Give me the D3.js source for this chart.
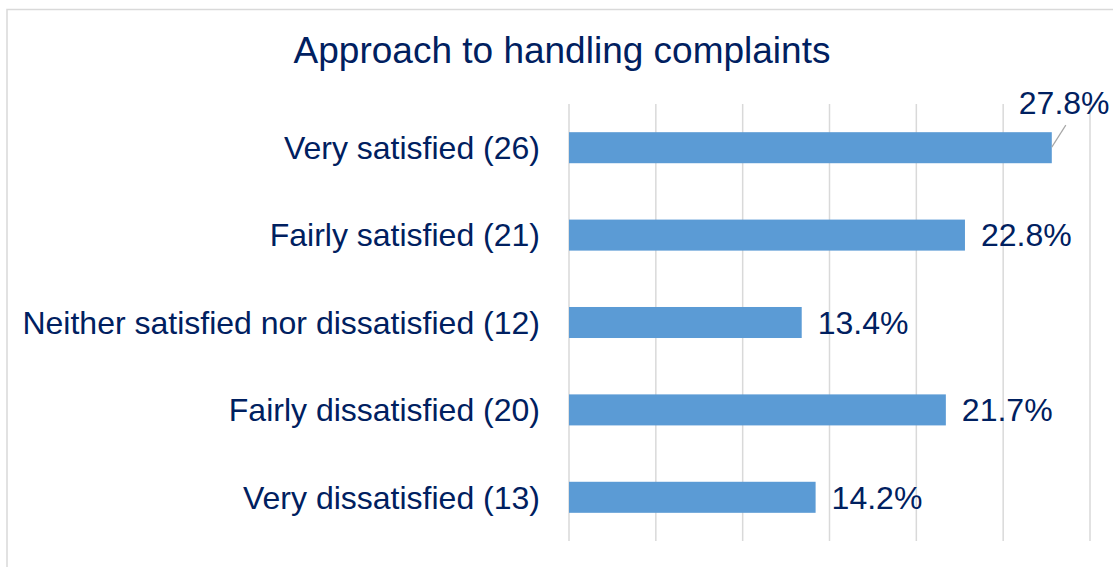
<!DOCTYPE html>
<html>
<head>
<meta charset="utf-8">
<script src="https://cdn.jsdelivr.net/npm/d3@7"></script>
<style>
  html, body { margin: 0; padding: 0; background: #fff; }
  svg { display: block; font-family: "Liberation Sans", Arial, sans-serif; }
</style>
</head>
<body>
<div id="chart"></div>
<script>
// Chart data
const categories = [
  'Very satisfied (26)',
  'Fairly satisfied (21)',
  'Neither satisfied nor dissatisfied (12)',
  'Fairly dissatisfied (20)',
  'Very dissatisfied (13)'
];
const values = [27.8, 22.8, 13.4, 21.7, 14.2];
const gridTicks = [0, 5, 10, 15, 20, 25, 30];
const title = 'Approach to handling complaints';

const width = 1113, height = 567;
const plot = { left: 569, right: 1090, top: 104, bottom: 541 };
const navy = '#002060';
const fs = 32;

const svg = d3.select('#chart').append('svg')
  .attr('width', width)
  .attr('height', height);

// Chart frame (only left/top edges fall inside the picture)
svg.append('rect')
  .attr('x', 7).attr('y', 9.5)
  .attr('width', width + 10).attr('height', height + 10)
  .attr('fill', '#fff')
  .attr('stroke', '#d9d9d9')
  .attr('stroke-width', 1.5);

const x = d3.scaleLinear().domain([0, 30]).range([plot.left, plot.right]);
const y = d3.scaleBand().domain(categories).range([plot.top, plot.bottom]).paddingInner(0.645).paddingOuter(0.3225);

// Gridlines
svg.append('g')
  .selectAll('line')
  .data(gridTicks)
  .join('line')
  .attr('x1', d => x(d)).attr('x2', d => x(d))
  .attr('y1', plot.top).attr('y2', plot.bottom)
  .attr('stroke', '#d9d9d9')
  .attr('stroke-width', 1.5);

// Bars
svg.append('g')
  .selectAll('rect')
  .data(values)
  .join('rect')
  .attr('x', x(0))
  .attr('y', (d, i) => y(categories[i]))
  .attr('width', d => x(d) - x(0))
  .attr('height', y.bandwidth())
  .attr('fill', '#5b9bd5');

// Category labels
svg.append('g')
  .selectAll('text')
  .data(categories)
  .join('text')
  .attr('x', plot.left - 29)
  .attr('y', d => y(d) + y.bandwidth() / 2)
  .attr('dy', '0.35em')
  .attr('text-anchor', 'end')
  .attr('font-size', fs)
  .attr('fill', navy)
  .text(d => d);

// Value labels; the longest one sits above its bar with a leader line
const maxV = d3.max(values);
svg.append('g')
  .selectAll('text')
  .data(values)
  .join('text')
  .attr('x', d => d === maxV ? x(d) - 33 : x(d) + 16)
  .attr('y', (d, i) => d === maxV ? y(categories[i]) - 18 : y(categories[i]) + y.bandwidth() / 2)
  .attr('dy', d => d === maxV ? 0 : '0.35em')
  .attr('font-size', fs)
  .attr('fill', navy)
  .text(d => d.toFixed(1) + '%');

const iMax = values.indexOf(maxV);
svg.append('line')
  .attr('x1', x(maxV)).attr('y1', y(categories[iMax]) + 15)
  .attr('x2', x(maxV) + 14).attr('y2', y(categories[iMax]) - 7)
  .attr('stroke', '#a6a6a6')
  .attr('stroke-width', 1.2);

// Title
svg.append('text')
  .attr('x', 562)
  .attr('y', 63)
  .attr('text-anchor', 'middle')
  .attr('font-size', 37)
  .attr('fill', navy)
  .text(title);
</script>
</body>
</html>
